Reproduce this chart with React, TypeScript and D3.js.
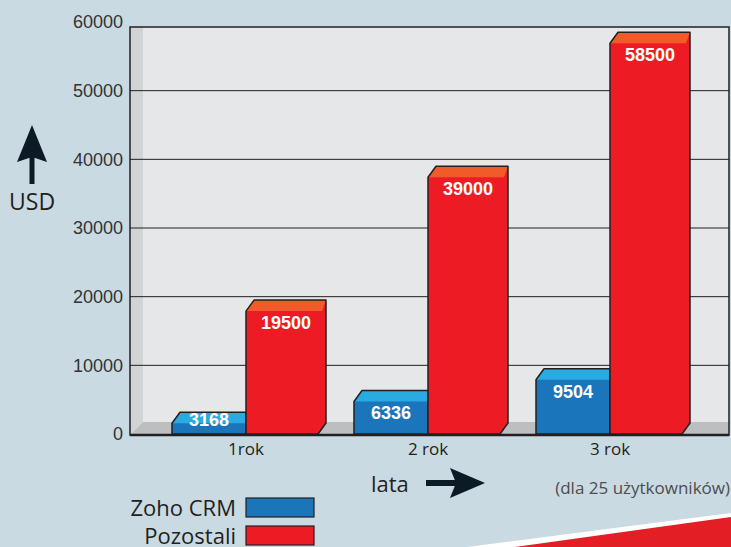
import React from "react";
import * as d3 from "d3";

const categories = ["1rok", "2 rok", "3 rok"];
const zohoValues = [3168, 6336, 9504];
const otherValues = [19500, 39000, 58500];
const yTicks = [0, 10000, 20000, 30000, 40000, 50000, 60000];
const seriesNames = ["Zoho CRM", "Pozostali"];

const W = 731;
const H = 547;
const PLOT = { left: 130, top: 27, right: 729, bottom: 435 };
const BASE = 434;
const DX = 8;
const DY = 11;
const BLUE_W = 74;
const RED_W = 72;

const C = {
  bg: "#c9dae3",
  plot: "#e6e7e8",
  wall: "#d1d3d4",
  floor: "#bdbec0",
  ink: "#231f20",
  blueTop: "#29aae1",
  blueFront: "#1b75bb",
  redTop: "#f15a29",
  red: "#ed1c24",
};

export default function App() {
  const y = d3.scaleLinear().domain([0, 60000]).range([BASE, 22]);
  const x = d3.scalePoint<string>().domain(categories).range([246, 610]);

  const sansTick = "'Liberation Sans', Arial, sans-serif";
  const myriad = "'Open Sans', 'Noto Sans', sans-serif";

  return (
    <svg width={W} height={H} style={{ display: "block", position: "absolute", left: 0, top: 0 }}>
      <rect x={0} y={0} width={W} height={H} fill={C.bg} />

      {/* plot background */}
      <rect x={PLOT.left} y={PLOT.top} width={PLOT.right - PLOT.left} height={PLOT.bottom - PLOT.top} fill={C.plot} />
      {/* left wall */}
      <polygon points={`${PLOT.left},${PLOT.top} ${PLOT.left + 13},${PLOT.top} ${PLOT.left + 13},${BASE - 12} ${PLOT.left},${PLOT.bottom}`} fill={C.wall} />
      {/* floor */}
      <polygon points={`${PLOT.left + 13},${BASE - 12} ${PLOT.right},${BASE - 12} ${PLOT.right},${PLOT.bottom} ${PLOT.left},${PLOT.bottom}`} fill={C.floor} />

      {/* grid lines */}
      {yTicks.filter((t) => t > 0 && t < 60000).map((t) => (
        <line key={t} x1={PLOT.left} x2={PLOT.right} y1={y(t)} y2={y(t)} stroke={C.ink} strokeWidth={1} />
      ))}

      {/* frame */}
      <rect x={PLOT.left} y={PLOT.top} width={PLOT.right - PLOT.left} height={PLOT.bottom - PLOT.top} fill="none" stroke={C.ink} strokeWidth={1.5} />
      <line x1={PLOT.left} x2={PLOT.right} y1={PLOT.bottom} y2={PLOT.bottom} stroke={C.ink} strokeWidth={2.5} />

      {/* y tick labels */}
      {yTicks.map((t) => (
        <text key={t} x={123} y={y(t)} dy="0.35em" textAnchor="end" fontFamily={sansTick} fontSize={18} fill="#333">
          {t}
        </text>
      ))}

      {/* bars */}
      {categories.map((c, i) => {
        const cx = x(c) as number;
        const bTop = y(zohoValues[i]);
        const bl = cx - BLUE_W;
        const rTop = y(otherValues[i]);
        const blueLabelY = Math.min(bTop + DY + 11.5, BASE - 14);
        return (
          <g key={c}>
            {/* blue bar */}
            <polygon
              points={`${bl},${BASE} ${bl},${bTop + DY} ${bl + DX},${bTop} ${cx},${bTop} ${cx},${BASE}`}
              fill={C.blueFront}
            />
            <polygon points={`${bl},${bTop + DY} ${bl + DX},${bTop} ${cx},${bTop} ${cx},${bTop + DY}`} fill={C.blueTop} />
            <polygon
              points={`${bl},${BASE} ${bl},${bTop + DY} ${bl + DX},${bTop} ${cx},${bTop} ${cx},${BASE}`}
              fill="none"
              stroke={C.ink}
              strokeWidth={1.5}
              strokeLinejoin="round"
            />
            <text x={bl + BLUE_W / 2} y={blueLabelY} dy="0.35em" textAnchor="middle" fontFamily={sansTick} fontWeight="bold" fontSize={18} fill="#fff">
              {zohoValues[i]}
            </text>

            {/* red bar */}
            <polygon
              points={`${cx},${BASE} ${cx},${rTop + DY} ${cx + DX},${rTop} ${cx + RED_W + DX},${rTop} ${cx + RED_W + DX},${BASE - DY} ${cx + RED_W},${BASE}`}
              fill={C.red}
            />
            <polygon
              points={`${cx},${rTop + DY} ${cx + DX},${rTop} ${cx + RED_W + DX},${rTop} ${cx + RED_W + DX - 4},${rTop + DY}`}
              fill={C.redTop}
            />
            <polygon
              points={`${cx},${BASE} ${cx},${rTop + DY} ${cx + DX},${rTop} ${cx + RED_W + DX},${rTop} ${cx + RED_W + DX},${BASE - DY} ${cx + RED_W},${BASE}`}
              fill="none"
              stroke={C.ink}
              strokeWidth={1.5}
              strokeLinejoin="round"
            />
            <text x={cx + (RED_W + DX) / 2} y={rTop + DY + 11.5} dy="0.35em" textAnchor="middle" fontFamily={sansTick} fontWeight="bold" fontSize={18} fill="#fff">
              {otherValues[i]}
            </text>

            {/* category label */}
            <text x={cx} y={455} textAnchor="middle" fontFamily={myriad} fontSize={17} fill={C.ink}>
              {c}
            </text>
          </g>
        );
      })}

      {/* USD arrow */}
      <rect x={29.5} y={154} width={5} height={30} fill="#0b1a24" />
      <polygon points="32,125 47,162 32,157 17,162" fill="#0b1a24" />
      <text x={9} y={210} fontFamily={myriad} fontSize={23} fill={C.ink}>USD</text>

      {/* lata arrow */}
      <text x={371} y={492} fontFamily={myriad} fontSize={22} fill={C.ink}>lata</text>
      <rect x={426} y={480} width={30} height={6} fill="#0b1a24" />
      <polygon points="485,483 450,468 456,483 450,498" fill="#0b1a24" />

      <text x={730} y={494} textAnchor="end" fontFamily={myriad} fontSize={17} fill="#4d4d4d">
        (dla 25 użytkowników)
      </text>

      {/* legend */}
      {seriesNames.map((s, i) => (
        <g key={s}>
          <text x={236} y={516 + i * 28} textAnchor="end" fontFamily={myriad} fontSize={22} fill={C.ink}>
            {s}
          </text>
          <rect x={246} y={498 + i * 28} width={68} height={19} fill={i === 0 ? C.blueFront : C.red} stroke={C.ink} strokeWidth={1.2} />
        </g>
      ))}

      {/* swoosh */}
      <polygon points={`467,${H} ${W},513 ${W},${H}`} fill="#ffffff" />
      <polygon points={`515,${H} ${W},517 ${W},${H}`} fill="#e31e24" />
    </svg>
  );
}
